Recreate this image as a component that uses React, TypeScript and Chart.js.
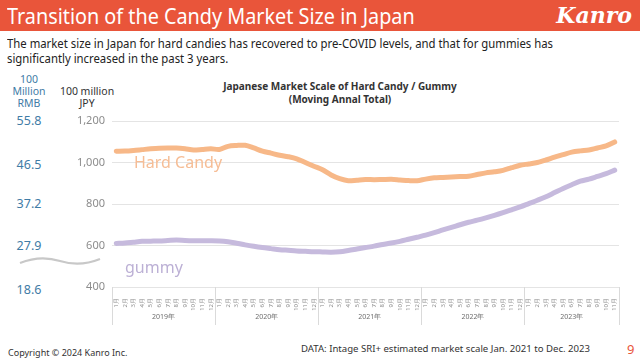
import React, { useEffect, useRef } from "react";
import { Chart, registerables } from "chart.js";

Chart.register(...registerables);

if (typeof document !== "undefined") {
  document.body.style.margin = "0";
}

const years = ["2019年", "2020年", "2021年", "2022年", "2023年"];
const monthsPerYear = [12, 12, 12, 12, 11];
const monthLabels: string[] = [];
monthsPerYear.forEach((n) => {
  for (let m = 1; m <= n; m++) monthLabels.push(m + "月");
});

const hardCandy = [
  1054, 1055, 1058, 1062, 1066, 1069, 1070, 1070, 1066, 1060, 1063, 1066,
  1063, 1078, 1082, 1083, 1070, 1055, 1045, 1035, 1028, 1018, 1000, 982,
  965, 940, 922, 912, 915, 918, 917, 918, 919, 916, 913, 912,
  920, 926, 928, 930, 932, 934, 942, 950, 955, 962, 975, 987,
  993, 1000, 1012, 1026, 1038, 1050, 1056, 1060, 1070, 1080, 1099,
];

const gummy = [
  610, 612, 616, 620, 621, 622, 624, 626, 624, 623, 623, 623,
  622, 618, 611, 603, 596, 590, 585, 580, 577, 574, 572, 570,
  569, 568, 570, 576, 583, 590, 597, 605, 612, 620, 630, 640,
  650, 662, 675, 687, 700, 712, 722, 733, 745, 758, 772, 786,
  802, 818, 835, 855, 875, 893, 910, 920, 933, 946, 963,
];

const yTicks = [400, 600, 800, 1000, 1200];
const rmbTicks = ["55.8", "46.5", "37.2", "27.9", "18.6"];

const FONT = "'Noto Sans', 'Open Sans', sans-serif";

const yearPlugin = {
  id: "yearBands",
  afterDraw(chart: any) {
    const { ctx, chartArea, scales } = chart;
    const x = scales.x;
    const n = monthLabels.length;
    const band = (chartArea.right - chartArea.left) / n;
    ctx.save();
    ctx.strokeStyle = "#DADADA";
    ctx.lineWidth = 1;
    let start = 0;
    const top = chartArea.bottom;
    const bottom = chartArea.bottom + 38;
    const edges: number[] = [];
    monthsPerYear.forEach((cnt) => {
      edges.push(x.getPixelForValue(start) - band / 2);
      start += cnt;
    });
    edges.push(x.getPixelForValue(start - 1) + band / 2);
    edges.forEach((e) => {
      const px = Math.round(e) + 0.5;
      ctx.beginPath();
      ctx.moveTo(px, top);
      ctx.lineTo(px, bottom);
      ctx.stroke();
    });
    ctx.fillStyle = "#6E6E6E";
    ctx.font = "7px " + FONT;
    ctx.textAlign = "center";
    ctx.textBaseline = "middle";
    years.forEach((yr, i) => {
      ctx.fillText(yr, (edges[i] + edges[i + 1]) / 2, chartArea.bottom + 30);
    });
    ctx.restore();
  },
};

function LineChart() {
  const ref = useRef<HTMLCanvasElement>(null);
  useEffect(() => {
    if (!ref.current) return;
    const chart = new Chart(ref.current, {
      type: "line",
      data: {
        labels: monthLabels,
        datasets: [
          {
            label: "Hard Candy",
            data: hardCandy,
            borderColor: "#F7B888",
            borderWidth: 5,
            pointRadius: 0,
            tension: 0.3,
            borderCapStyle: "round",
            borderJoinStyle: "round",
          },
          {
            label: "gummy",
            data: gummy,
            borderColor: "#C6BADD",
            borderWidth: 5,
            pointRadius: 0,
            tension: 0.3,
            borderCapStyle: "round",
            borderJoinStyle: "round",
          },
        ],
      },
      options: {
        animation: false,
        responsive: false,
        devicePixelRatio: 1,
        layout: { padding: { top: 21, right: 21, left: 0, bottom: 0 } },
        plugins: {
          legend: { display: false },
          tooltip: { enabled: false },
          title: { display: false },
        },
        scales: {
          x: {
            offset: true,
            grid: { display: false },
            border: { display: false },
            ticks: {
              autoSkip: false,
              minRotation: 90,
              maxRotation: 90,
              color: "#8A8A8A",
              font: { size: 6, family: FONT },
              padding: 3,
            },
            afterFit(axis: any) {
              axis.height = 48;
            },
          },
          y: {
            min: 400,
            max: 1200,
            afterBuildTicks(axis: any) {
              axis.ticks = yTicks.map((v) => ({ value: v }));
            },
            grid: { color: "#E4E4E4", drawTicks: false, lineWidth: 1 },
            border: { display: false },
            ticks: {
              color: "#8C8C8C",
              font: { size: 11, family: FONT },
              padding: 7,
              callback: (v: any) => Number(v).toLocaleString("en-US"),
            },
            afterFit(axis: any) {
              axis.width = 112;
            },
          },
        },
      },
      plugins: [yearPlugin],
    });
    return () => chart.destroy();
  }, []);
  return (
    <canvas
      ref={ref}
      width={640}
      height={235}
      style={{ position: "absolute", left: 0, top: 100, width: 640, height: 235 }}
    />
  );
}

export default function App() {
  const blue = "#3F7CA6";
  const abs = (s: React.CSSProperties): React.CSSProperties => ({ position: "absolute", ...s });
  return (
    <div
      style={{
        position: "relative",
        width: 640,
        height: 361,
        overflow: "hidden",
        background: "#FFFFFF",
        fontFamily: FONT,
      }}
    >
      <div style={abs({ left: 0, top: 0, width: 640, height: 31, background: "#E9553A" })} />
      <div
        style={abs({
          left: 7,
          top: 0,
          height: 31,
          lineHeight: "31px",
          color: "#FFFFFF",
          fontSize: 22,
          whiteSpace: "nowrap",
          transform: "scaleX(0.9)",
          transformOrigin: "left center",
        })}
      >
        Transition of the Candy Market Size in Japan
      </div>
      <div
        style={abs({
          right: 8,
          top: 0,
          height: 31,
          lineHeight: "31px",
          color: "#FFFFFF",
          fontSize: 22,
          fontWeight: "bold",
          fontStyle: "italic",
          fontFamily: "'DejaVu Serif', serif",
          whiteSpace: "nowrap",
        })}
      >
        Kanro
      </div>
      <div
        style={abs({
          left: 7,
          top: 36,
          width: 700,
          fontSize: 12.5,
          lineHeight: "15px",
          color: "#222222",
          whiteSpace: "nowrap",
          transform: "scaleX(0.907)",
          transformOrigin: "left top",
        })}
      >
        The market size in Japan for hard candies has recovered to pre-COVID levels, and that for gummies has
        <br />
        significantly increased in the past 3 years.
      </div>

      <div
        style={abs({
          left: 4,
          top: 73,
          width: 50,
          textAlign: "center",
          fontSize: 10.5,
          lineHeight: "12px",
          color: blue,
        })}
      >
        100
        <br />
        Million
        <br />
        RMB
      </div>
      {rmbTicks.map((t, i) => (
        <div
          key={t}
          style={abs({
            left: 4,
            top: [121, 165, 204, 246, 290][i] - 8,
            width: 50,
            height: 16,
            lineHeight: "16px",
            textAlign: "center",
            fontSize: 12.5,
            color: blue,
          })}
        >
          {t}
        </div>
      ))}
      <svg width={90} height={14} style={{ position: "absolute", left: 15, top: 255 }}>
        <path d="M5 8 C 20 2, 32 2, 45 6 S 70 10, 85 4" stroke="#C8C8C8" strokeWidth={2.2} fill="none" />
      </svg>
      <div
        style={abs({
          left: 56,
          top: 85,
          width: 62,
          textAlign: "center",
          fontSize: 10.5,
          lineHeight: "12px",
          color: "#333333",
        })}
      >
        100 million
        <br />
        JPY
      </div>

      <div
        style={abs({
          left: 190,
          top: 80,
          width: 300,
          textAlign: "center",
          fontSize: 10,
          fontWeight: "bold",
          lineHeight: "13px",
          color: "#333333",
        })}
      >
        Japanese Market Scale of Hard Candy / Gummy
        <br />
        (Moving Annal Total)
      </div>

      <LineChart />

      <div
        style={abs({
          left: 134,
          top: 151,
          fontSize: 16,
          color: "#F6BD95",
          whiteSpace: "nowrap",
          lineHeight: "22px",
        })}
      >
        Hard Candy
      </div>
      <div
        style={abs({
          left: 125,
          top: 256,
          fontSize: 16,
          color: "#BCB0D5",
          whiteSpace: "nowrap",
          lineHeight: "22px",
        })}
      >
        gummy
      </div>

      <div
        style={abs({
          left: 8,
          top: 347,
          fontSize: 9,
          lineHeight: "12px",
          color: "#333333",
          whiteSpace: "nowrap",
        })}
      >
        Copyright © 2024 Kanro Inc.
      </div>
      <div
        style={abs({
          left: 301,
          top: 343,
          fontSize: 9.6,
          lineHeight: "12px",
          color: "#333333",
          whiteSpace: "nowrap",
        })}
      >
        DATA: Intage SRI+ estimated market scale Jan. 2021 to Dec. 2023
      </div>
      <div
        style={abs({
          left: 627,
          top: 341,
          fontSize: 13,
          lineHeight: "16px",
          color: "#E9553A",
        })}
      >
        9
      </div>
    </div>
  );
}
